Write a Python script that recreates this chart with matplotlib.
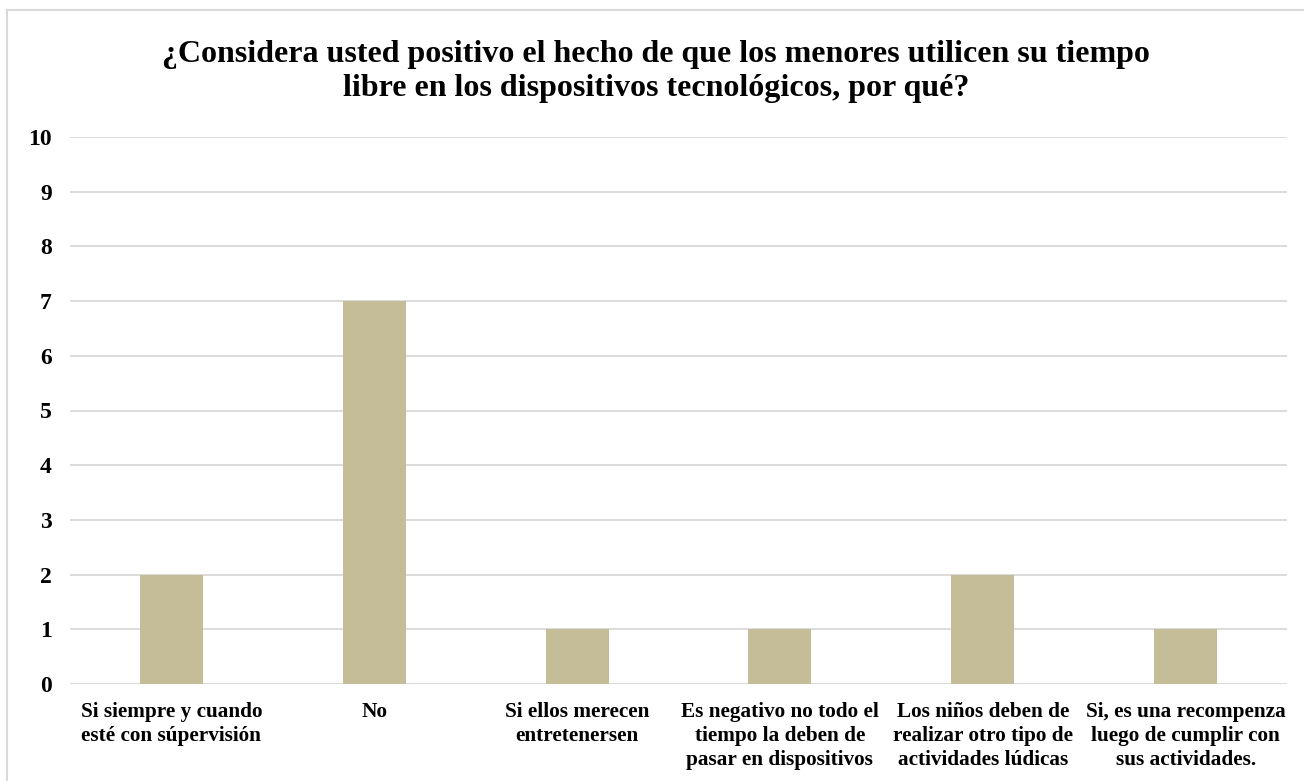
import matplotlib
matplotlib.use("Agg")
import matplotlib.pyplot as plt
from matplotlib.lines import Line2D

categories = [
    "Si siempre y cuando\nesté con súpervisión",
    "No",
    "Si ellos merecen\nentretenersen",
    "Es negativo no todo el\ntiempo la deben de\npasar en dispositivos",
    "Los niños deben de\nrealizar otro tipo de\nactividades lúdicas",
    "Si, es una recompenza\nluego de cumplir con\nsus actividades.",
]
values = [2, 7, 1, 1, 2, 1]
yticks = list(range(0, 11))
title = "¿Considera usted positivo el hecho de que los menores utilicen su tiempo\nlibre en los dispositivos tecnológicos, por qué?"

plt.rcParams['font.family'] = ['Liberation Serif', 'DejaVu Serif']

W, H = 1304, 781
fig = plt.figure(figsize=(W/100, H/100), dpi=100)
ax = fig.add_axes([70/W, 1-684/H, (1287-70)/W, (684-137)/H])

x = list(range(len(categories)))
ax.bar(x, values, width=0.31, color="#C4BD97", zorder=3)
ax.set_xlim(-0.5, len(categories)-0.5)
ax.set_ylim(0, 10)
ax.set_yticks(yticks)
ax.set_yticklabels([str(t) for t in yticks], fontsize=17, fontweight='bold')
ax.set_xticks(x)
ax.set_xticklabels(categories, fontsize=15.3, fontweight='bold', linespacing=1.25)
ax.tick_params(axis='both', length=0)
ax.tick_params(axis='y', pad=13)
ax.tick_params(axis='x', pad=13)
ax.grid(axis='y', color="#D9D9D9", linewidth=1.3, zorder=0)
for s in ax.spines.values():
    s.set_visible(False)

fig.text(656/W, 1-71.5/H, title, ha='center', va='center', fontsize=23,
         fontweight='bold', linespacing=1.27)

# figure border
fig.add_artist(Line2D([7/W, 7/W], [0, 1-10/H], color="#D9D9D9", linewidth=1.5, transform=fig.transFigure))
fig.add_artist(Line2D([7/W, 1], [1-10/H, 1-10/H], color="#D9D9D9", linewidth=1.5, transform=fig.transFigure))

fig.savefig("out.png", dpi=100)
